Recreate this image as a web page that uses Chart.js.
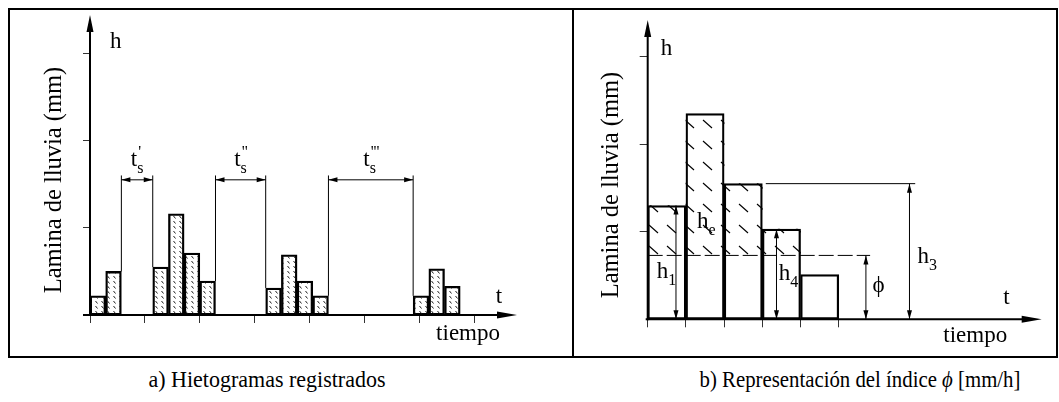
<!DOCTYPE html>
<html>
<head>
<meta charset="utf-8">
<script src="https://cdn.jsdelivr.net/npm/chart.js@4.4.1/dist/chart.umd.min.js"></script>
<style>
  body { margin: 0; background: #fff; width: 1059px; height: 402px; position: relative; overflow: hidden; font-family: "Liberation Serif", "Times New Roman", serif; }
  #frame { position: absolute; left: 8px; top: 8px; width: 1050px; height: 350px; box-sizing: border-box; border: 2px solid #000; }
  #divider { position: absolute; left: 572px; top: 8px; width: 2px; height: 350px; background: #000; }
  #wrapA { position: absolute; left: 10px; top: 10px; width: 562px; height: 346px; }
  #wrapB { position: absolute; left: 574px; top: 10px; width: 482px; height: 346px; }
  .cap { position: absolute; top: 368px; font-size: 22px; line-height: 22px; white-space: nowrap; transform: translateX(-50%) scaleY(1.08); color: #000; }
</style>
</head>
<body>
<div id="frame"></div>
<div id="divider"></div>
<div id="wrapA"><canvas id="chartA"></canvas></div>
<div id="wrapB"><canvas id="chartB"></canvas></div>
<div class="cap" style="left:267px">a) Hietogramas registrados</div>
<div class="cap" style="left:860px;font-size:20.8px">b) Representación del índice <i>ϕ</i> [mm/h]</div>

<script>
// a) hietogramas registrados (x in block units, h in tick units)
const hietoStart = [0, 1, 4, 5, 6, 7, 11.2, 12.2, 13.2, 14.2, 20.6, 21.6, 22.6];
const hietoDepth = [0.22, 0.50, 0.55, 1.16, 0.71, 0.39, 0.31, 0.69, 0.39, 0.22, 0.22, 0.53, 0.33];
const ticksAx = [0, 3.5, 7, 10.5, 14, 17.5, 21, 24.5];
const ticksAy = [1, 2, 3];
const gapPrimes = ["'", '"', "'''"];

// b) indice phi
const phiDepth = [1.30, 2.35, 1.55, 1.03, 0.51];
const phiIndex = 0.73;
const ticksBx = [0, 1, 2, 3, 4, 5];
const ticksBy = [1, 2, 3];

const FONT = '"Liberation Serif", "Times New Roman", serif';

function makePattern(w, h, draw) {
  const c = document.createElement('canvas');
  c.width = w; c.height = h;
  const g = c.getContext('2d');
  draw(g);
  return g.createPattern(c, 'repeat');
}

const dotsHatch = makePattern(6, 5, g => {
  g.strokeStyle = '#222'; g.lineWidth = 1;
  g.beginPath(); g.moveTo(1.5, 1); g.lineTo(3.5, 3.5); g.stroke();
});
const lineHatch = makePattern(18, 21, g => {
  g.strokeStyle = '#000'; g.lineWidth = 1.1;
  g.beginPath(); g.moveTo(3, 5); g.lineTo(12, 13); g.stroke();
});

function seg(ctx, x1, y1, x2, y2) {
  ctx.beginPath(); ctx.moveTo(x1, y1); ctx.lineTo(x2, y2); ctx.stroke();
}
function head(ctx, tx, ty, dx, dy, len, hw) {
  // tip at (tx,ty), pointing along (dx,dy)
  ctx.beginPath();
  ctx.moveTo(tx, ty);
  ctx.lineTo(tx - dx * len - dy * hw, ty - dy * len + dx * hw);
  ctx.lineTo(tx - dx * len + dy * hw, ty - dy * len - dx * hw);
  ctx.closePath(); ctx.fill();
}
function dimV(ctx, x, yA, yB) { // vertical double arrow, yA bottom, yB top
  seg(ctx, x, yA, x, yB);
  head(ctx, x, yB, 0, -1, 9, 2.5);
  head(ctx, x, yA, 0, 1, 9, 2.5);
}
function label(ctx, x, y, base, sub, sup, size, align) {
  const small = Math.round(size * 0.7) + 'px ' + FONT;
  ctx.font = size + 'px ' + FONT;
  const wb = ctx.measureText(base).width;
  ctx.font = small;
  const ws = Math.max(sub ? ctx.measureText(sub).width : 0, sup ? ctx.measureText(sup).width : 0);
  const left = align === 'center' ? x - (wb + ws) / 2 : x;
  ctx.textAlign = 'left'; ctx.textBaseline = 'alphabetic';
  ctx.font = size + 'px ' + FONT;
  ctx.fillText(base, left, y);
  ctx.font = small;
  if (sub) ctx.fillText(sub, left + wb, y + size * 0.3);
  if (sup) ctx.fillText(sup, left + wb + 1, y - size * 0.38);
}
function yTitle(ctx, cx, cy, text) {
  ctx.save();
  ctx.translate(cx, cy); ctx.rotate(-Math.PI / 2);
  ctx.font = '24.5px ' + FONT; ctx.textAlign = 'center'; ctx.textBaseline = 'middle';
  ctx.fillText(text, 0, 0);
  ctx.restore();
}
function axisArrows(ctx, x, y, xStart) {
  const x0 = x.getPixelForValue(0), y0 = y.getPixelForValue(0);
  ctx.lineWidth = 2;
  seg(ctx, xStart, y0, x.right - 12, y0);
  seg(ctx, x0, y0 + 1, x0, y.top + 12);
  head(ctx, x.right, y0, 1, 0, 20, 3.5);
  head(ctx, x0, y.top, 0, -1, 17, 3.5);
}

const tickScale = (vals, len) => ({
  type: 'linear', offset: false,
  afterBuildTicks: a => { a.ticks = vals.map(v => ({ value: v })); },
  grid: { offset: false, drawOnChartArea: false, drawTicks: true, tickLength: len, color: '#333', lineWidth: 1 },
  border: { display: false },
  ticks: { display: false }
});

const annotA = {
  id: 'annotA',
  afterDatasetsDraw(chart) {
    const { ctx, scales: { x, y } } = chart;
    ctx.save();
    ctx.strokeStyle = '#000'; ctx.fillStyle = '#000';
    axisArrows(ctx, x, y, x.getPixelForValue(0) - 7);

    // dry spells between storms
    ctx.lineWidth = 1;
    let k = 0;
    for (let i = 1; i < hietoStart.length; i++) {
      const end = hietoStart[i - 1] + 1;
      if (hietoStart[i] - end < 0.5) continue;
      const xa = x.getPixelForValue(end), xb = x.getPixelForValue(hietoStart[i]);
      const yTop = y.getPixelForValue(1.60), yArr = y.getPixelForValue(1.55);
      seg(ctx, xa, y.getPixelForValue(hietoDepth[i - 1]), xa, yTop);
      seg(ctx, xb, y.getPixelForValue(hietoDepth[i]), xb, yTop);
      seg(ctx, xa, yArr, xb, yArr);
      head(ctx, xa, yArr, -1, 0, 9, 2.5);
      head(ctx, xb, yArr, 1, 0, 9, 2.5);
      label(ctx, (xa + xb) / 2, y.getPixelForValue(1.71), 't', 's', gapPrimes[k++], 23, 'center');
    }

    label(ctx, x.getPixelForValue(1.28), y.getPixelForValue(3.06), 'h', '', '', 23, 'left');
    label(ctx, x.getPixelForValue(26.07), y.getPixelForValue(0.14), 't', '', '', 23, 'center');
    label(ctx, x.getPixelForValue(24.1), y.getPixelForValue(-0.287), 'tiempo', '', '', 23, 'center');
    yTitle(ctx, 45, 170, 'Lamina de lluvia (mm)');
    ctx.restore();
  }
};

const annotB = {
  id: 'annotB',
  afterDatasetsDraw(chart) {
    const { ctx, scales: { x, y } } = chart;
    const px = v => x.getPixelForValue(v), py = v => y.getPixelForValue(v);
    ctx.save();
    ctx.strokeStyle = '#000'; ctx.fillStyle = '#000';
    axisArrows(ctx, x, y, px(0) - 2);

    ctx.lineWidth = 1;
    // phi line
    ctx.setLineDash([15, 4]);
    seg(ctx, px(0), py(phiIndex), px(5.82), py(phiIndex));
    ctx.setLineDash([]);
    dimV(ctx, px(5.71), py(0), py(phiIndex));
    // h1, h4
    dimV(ctx, px(0.74), py(0), py(phiDepth[0]));
    dimV(ctx, px(3.37), py(0), py(phiDepth[3]));
    // h3
    seg(ctx, px(3.09), py(phiDepth[2]), px(7.0), py(phiDepth[2]));
    dimV(ctx, px(6.85), py(0), py(phiDepth[2]));

    label(ctx, px(0.34), py(3.02), 'h', '', '', 23, 'left');
    label(ctx, px(0.24), py(0.47), 'h', '1', '', 23, 'left');
    label(ctx, px(1.29), py(1.04), 'h', 'e', '', 23, 'left');
    label(ctx, px(3.43), py(0.45), 'h', '4', '', 23, 'left');
    label(ctx, px(7.06), py(0.64), 'h', '3', '', 23, 'left');
    label(ctx, px(6.04), py(0.315), 'ϕ', '', '', 23, 'center');
    label(ctx, px(9.39), py(0.175), 't', '', '', 23, 'center');
    label(ctx, px(8.57), py(-0.256), 'tiempo', '', '', 23, 'center');
    yTitle(ctx, 37.7, 175, 'Lamina de lluvia (mm)');
    ctx.restore();
  }
};

const baseOptions = {
  responsive: true,
  maintainAspectRatio: false,
  animation: false,
  events: [],
  plugins: { legend: { display: false }, tooltip: { enabled: false } }
};

new Chart(document.getElementById('chartA'), {
  type: 'bar',
  data: {
    datasets: [{
      data: hietoStart.map((s, i) => ({ x: s + 0.5, y: hietoDepth[i] })),
      backgroundColor: dotsHatch,
      borderColor: '#000',
      borderWidth: 1.7,
      borderSkipped: false,
      barPercentage: 1,
      categoryPercentage: 1
    }]
  },
  options: {
    ...baseOptions,
    layout: { padding: { left: 73, right: 55, top: 5, bottom: 33 } },
    scales: {
      x: { ...tickScale(ticksAx, 8), min: 0, max: 27.22 },
      y: { ...tickScale(ticksAy, 7), min: 0, max: 3.44 }
    }
  },
  plugins: [annotA]
});

new Chart(document.getElementById('chartB'), {
  type: 'bar',
  data: {
    datasets: [{
      // total rainfall per interval
      data: phiDepth.map((h, i) => ({ x: i + 0.5, y: h })),
      backgroundColor: 'rgba(0,0,0,0)',
      borderColor: '#000',
      borderWidth: 1.6,
      borderSkipped: false,
      barPercentage: 1,
      categoryPercentage: 1,
      grouped: false,
      order: 0
    }, {
      // excess rainfall above phi
      data: phiDepth.map((h, i) => ({ x: i + 0.5, y: h > phiIndex ? [phiIndex, h] : null })),
      backgroundColor: lineHatch,
      borderWidth: 0,
      barPercentage: 1,
      categoryPercentage: 1,
      grouped: false,
      order: 1
    }]
  },
  options: {
    ...baseOptions,
    layout: { padding: { left: 65.7, right: 14.3, top: 10, bottom: 28.7 } },
    scales: {
      x: { ...tickScale(ticksBx, 8), min: 0, max: 10.31 },
      y: { ...tickScale(ticksBy, 8), min: 0, max: 3.42 }
    }
  },
  plugins: [annotB]
});
</script>
</body>
</html>
